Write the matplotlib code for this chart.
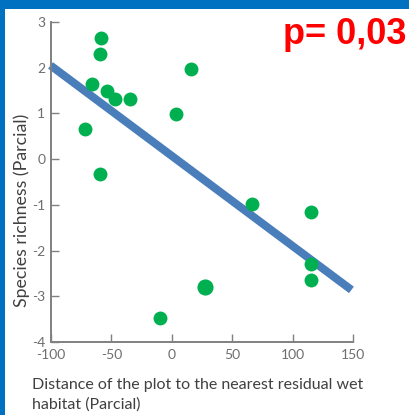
import matplotlib
matplotlib.use("Agg")
import matplotlib.pyplot as plt
from matplotlib.patches import Rectangle

# Data
dist_x = [-59.0, -59.6, 15.5, -66.0, -53.6, -47.2, -34.2, 3.1, -72.0, -59.6,
          66.0, 115.6, 115.6, 115.6, -9.4]
rich_y = [2.64, 2.31, 1.98, 1.65, 1.49, 1.32, 1.32, 0.99, 0.67, -0.33,
          -0.99, -1.15, -2.30, -2.64, -3.47]
big_x = [27.3]
big_y = [-2.79]
line_x = [-100.4, 148.7]
line_y = [2.05, -2.86]
xticks = [-100, -50, 0, 50, 100, 150]
yticks = [-4, -3, -2, -1, 0, 1, 2, 3]

W, H = 409, 415
fig = plt.figure(figsize=(W / 100, H / 100), dpi=100)
fig.patch.set_facecolor("#0070C0")
fig.patches.append(Rectangle((5 / W, 0), 1, (H - 9) / H, transform=fig.transFigure,
                             facecolor="white", edgecolor="none", zorder=-5))

ax = fig.add_axes([51 / W, (H - 342) / H, 302 / W, 320 / H])
ax.set_facecolor("none")
ax.set_zorder(2)
ax.set_xlim(-100, 150)
ax.set_ylim(-4, 3)

ax.plot(line_x, line_y, color="#4a7ebb", linewidth=5.8, solid_capstyle="butt",
        zorder=2, clip_on=False)
ax.scatter(dist_x, rich_y, s=100, color="#00b050", zorder=3, linewidths=0, clip_on=False)
ax.scatter(big_x, big_y, s=135, color="#00b050", zorder=3, linewidths=0, clip_on=False)

for s in ["top", "right"]:
    ax.spines[s].set_visible(False)
for s in ["left", "bottom"]:
    ax.spines[s].set_color("#808080")
    ax.spines[s].set_linewidth(1.4)

ax.set_xticks(xticks)
ax.set_yticks(yticks)
ax.set_xticklabels([str(v) for v in xticks])
ax.set_yticklabels([str(v) for v in yticks])
ax.tick_params(direction="in", length=6, width=1.0, color="#808080",
               labelcolor="#6e6e6e", labelsize=10)
for lab in ax.get_xticklabels() + ax.get_yticklabels():
    lab.set_family(["Liberation Sans Narrow", "Lato"])
ax.tick_params(axis="x", pad=5)
ax.tick_params(axis="y", pad=4)

fig.text(22 / W, 1 - 210 / H, "Species richness (Parcial)", rotation=90,
         ha="center", va="center", fontsize=12.8, color="#404040", family="Lato")
fig.text(32 / W, 1 - 385 / H, "Distance of the plot to the nearest residual wet",
         ha="left", va="center", fontsize=11.5, color="#404040", family="Lato")
fig.text(32 / W, 1 - 405 / H, "habitat (Parcial)",
         ha="left", va="center", fontsize=11.5, color="#404040", family="Lato")

fig.text(283 / W, 1 - 35 / H, "p= 0,03", ha="left", va="center", fontsize=26,
         fontweight="bold", color="#ff0000", family="Liberation Sans")

fig.savefig("out.png", dpi=100)
